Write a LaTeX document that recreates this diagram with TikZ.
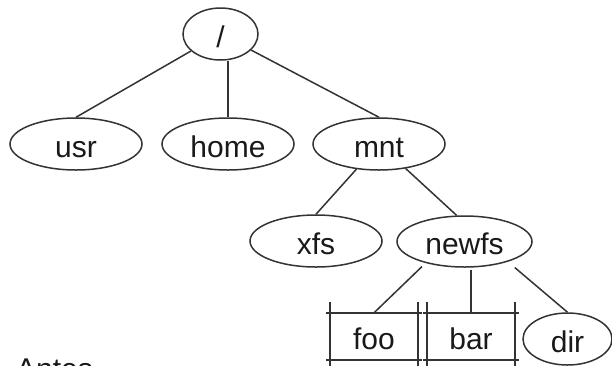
\documentclass[tikz,border=0pt]{standalone}
\usepackage{fontspec}
\setmainfont{Liberation Sans}
\usetikzlibrary{shapes.geometric}
\begin{document}
\begin{tikzpicture}[x=1pt,y=-1pt,
  every node/.style={font=\fontsize{30}{36}\selectfont, text=black!90,
    text height=26pt, text depth=0pt, inner sep=0pt},
  dirnode/.style={ellipse, draw=black!80, line width=1.5pt,
    minimum width=132pt, minimum height=52pt},
  mountbox/.style={rectangle, minimum width=88pt, minimum height=47pt},
  edge/.style={draw=black!80, line width=1.5pt}]
\useasboundingbox (0,0) rectangle (612,365);

% directory nodes
\node[dirnode, minimum width=75pt] (root) at (220.5,34) {/};
\node[dirnode] (usr)   at (76,144)    {usr};
\node[dirnode] (home)  at (228,144)   {home};
\node[dirnode] (mnt)   at (379,144)   {mnt};
\node[dirnode] (xfs)   at (316,241)   {xfs};
\node[dirnode, minimum width=135pt, minimum height=51pt] (newfs) at (464.5,241.5) {newfs};
\node[dirnode, minimum width=89pt] (dir) at (567.5,339) {dir};

% mounted file systems
\node[mountbox] (foo) at (374,336.5) {foo};
\node[mountbox] (bar) at (471,336.5) {bar};
\foreach \b in {foo,bar} {
  \draw[edge] ([yshift=11pt]\b.north west) -- ([yshift=-12pt]\b.south west);
  \draw[edge] ([yshift=11pt]\b.north east) -- ([yshift=-12pt]\b.south east);
  \draw[edge] ([xshift=-4pt]\b.north west) -- ([xshift=4pt]\b.north east);
  \draw[edge] ([xshift=-4pt]\b.south west) -- ([xshift=4pt]\b.south east);
}

% tree edges
\draw[edge] (root) -- (usr.north);
\draw[edge] (root.south -| home.north) -- (home.north);
\draw[edge] (root) -- (mnt.north);
\draw[edge] (mnt) -- (xfs.north);
\draw[edge] (mnt) -- ([xshift=-8pt]newfs.north);
\draw[edge, shorten <=5pt] (newfs.209) -- (foo.north);
\draw[edge, shorten <=2pt] (newfs.south -| bar.north) -- (bar.north);
\draw[edge, shorten <=9pt] (newfs.335) -- (dir.north);

% caption, running off the lower edge
\node[anchor=base west] (antes) at (16,379.5) {Antes};
\end{tikzpicture}
\end{document}
